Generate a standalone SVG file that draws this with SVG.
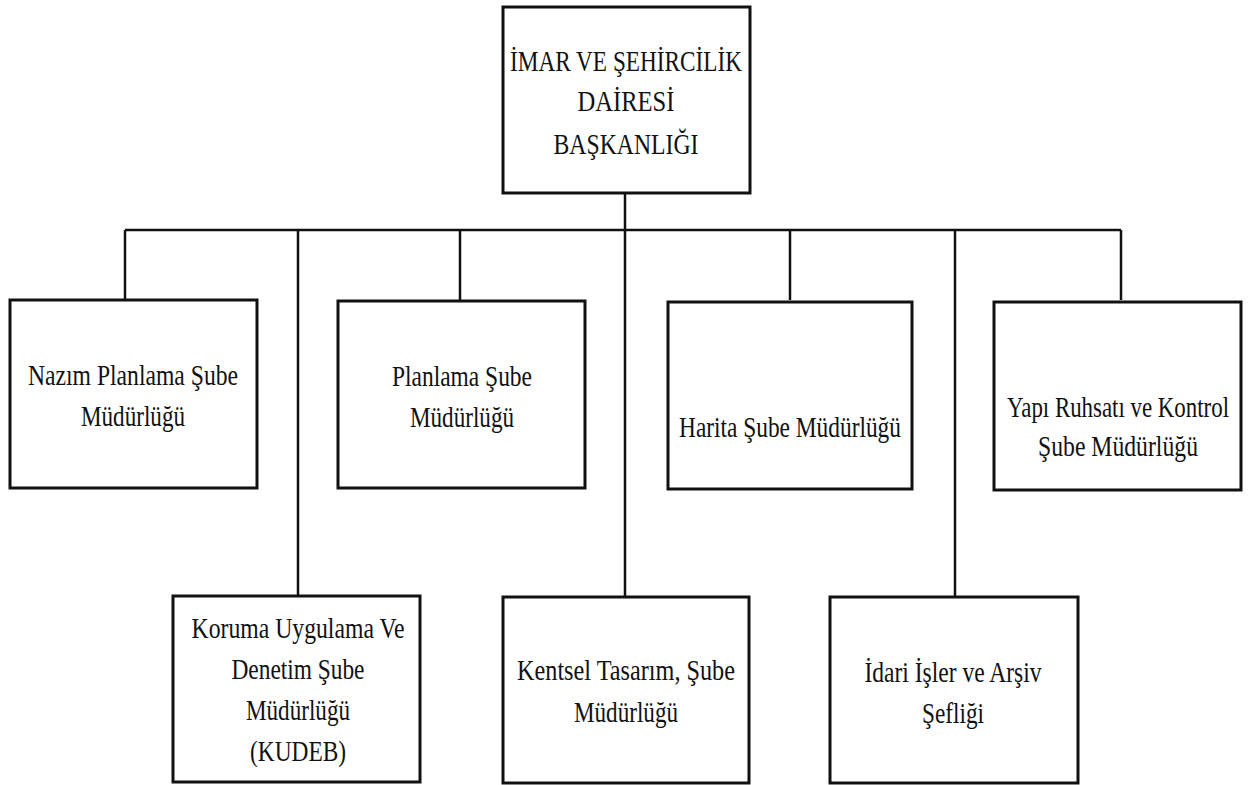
<svg xmlns="http://www.w3.org/2000/svg" width="1253" height="785" viewBox="0 0 1253 785">
<style>
.box{fill:#fff;stroke:#111;stroke-width:3}
.ln{fill:none;stroke:#111;stroke-width:2.5}
.t{font-family:"Liberation Serif","Times New Roman",serif;font-size:30px;fill:#111;text-anchor:middle}
</style>
<rect width="1253" height="785" fill="#fff"/>
<g id="connectors">
<path class="ln" d="M125,230 H1121"/>
<path class="ln" d="M625,193 V596"/>
<path class="ln" d="M125,230 V300"/>
<path class="ln" d="M298,230 V596"/>
<path class="ln" d="M460,230 V300"/>
<path class="ln" d="M790,230 V300"/>
<path class="ln" d="M955,230 V596"/>
<path class="ln" d="M1121,230 V300"/>
</g>
<g id="root">
<rect class="box" x="503" y="7" width="247" height="186"/>
<text class="t" x="626" y="71" textLength="232" lengthAdjust="spacingAndGlyphs">İMAR VE ŞEHİRCİLİK</text>
<text class="t" x="626" y="111" textLength="97" lengthAdjust="spacingAndGlyphs">DAİRESİ</text>
<text class="t" x="626" y="154" textLength="145" lengthAdjust="spacingAndGlyphs">BAŞKANLIĞI</text>
</g>
<g id="nazim">
<rect class="box" x="10" y="300" width="247" height="188"/>
<text class="t" x="133" y="385" textLength="210" lengthAdjust="spacingAndGlyphs">Nazım Planlama Şube</text>
<text class="t" x="133" y="426" textLength="104" lengthAdjust="spacingAndGlyphs">Müdürlüğü</text>
</g>
<g id="planlama">
<rect class="box" x="338" y="301" width="247" height="187"/>
<text class="t" x="462" y="386" textLength="140" lengthAdjust="spacingAndGlyphs">Planlama Şube</text>
<text class="t" x="462" y="427" textLength="104" lengthAdjust="spacingAndGlyphs">Müdürlüğü</text>
</g>
<g id="harita">
<rect class="box" x="668" y="302" width="244" height="187"/>
<text class="t" x="790" y="437" textLength="222" lengthAdjust="spacingAndGlyphs">Harita Şube Müdürlüğü</text>
</g>
<g id="yapi">
<rect class="box" x="994" y="302" width="247" height="188"/>
<text class="t" x="1118" y="417" textLength="222" lengthAdjust="spacingAndGlyphs">Yapı Ruhsatı ve Kontrol</text>
<text class="t" x="1118" y="456" textLength="160" lengthAdjust="spacingAndGlyphs">Şube Müdürlüğü</text>
</g>
<g id="koruma">
<rect class="box" x="173" y="596" width="247" height="186"/>
<text class="t" x="298" y="638" textLength="213" lengthAdjust="spacingAndGlyphs">Koruma Uygulama Ve</text>
<text class="t" x="298" y="679" textLength="133" lengthAdjust="spacingAndGlyphs">Denetim Şube</text>
<text class="t" x="298" y="720" textLength="104" lengthAdjust="spacingAndGlyphs">Müdürlüğü</text>
<text class="t" x="298" y="761" textLength="96" lengthAdjust="spacingAndGlyphs">(KUDEB)</text>
</g>
<g id="kentsel">
<rect class="box" x="503" y="597" width="246" height="186"/>
<text class="t" x="626" y="680" textLength="218" lengthAdjust="spacingAndGlyphs">Kentsel Tasarım, Şube</text>
<text class="t" x="626" y="722" textLength="104" lengthAdjust="spacingAndGlyphs">Müdürlüğü</text>
</g>
<g id="idari">
<rect class="box" x="830" y="597" width="248" height="186"/>
<text class="t" x="953" y="682" textLength="177" lengthAdjust="spacingAndGlyphs">İdari İşler ve Arşiv</text>
<text class="t" x="953" y="723" textLength="62" lengthAdjust="spacingAndGlyphs">Şefliği</text>
</g>
</svg>
